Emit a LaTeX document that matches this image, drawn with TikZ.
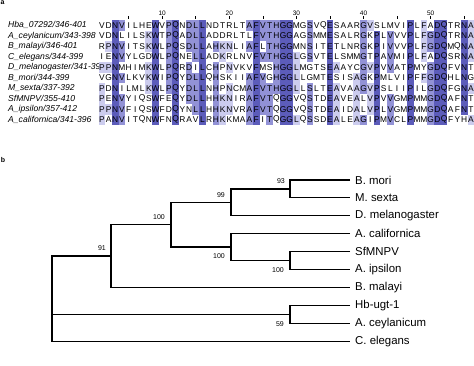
\documentclass[tikz,border=0pt]{standalone}
\usepackage{fontspec}
\setmainfont{Liberation Sans}
\usepackage{xcolor}
\usepackage{tikz}

\definecolor{piddark}{RGB}{92,92,186}
\definecolor{pidmid}{RGB}{146,146,214}
\definecolor{pidlight}{RGB}{204,204,238}

\tikzset{
  res/.style={inner sep=0pt, font=\fontsize{8.4}{8}\selectfont},
  seqname/.style={anchor=west, inner sep=0pt, font=\fontsize{8.6}{9}\selectfont\itshape},
  ruler/.style={inner sep=0pt, font=\fontsize{6.5}{7}\selectfont},
  branch/.style={line width=1.2pt},
  leaf/.style={anchor=west, inner sep=0pt, xshift=5pt, font=\fontsize{11.4}{12}\selectfont},
  boot/.style={inner sep=0pt, font=\fontsize{7}{8}\selectfont},
  panel/.style={inner sep=0pt, font=\fontsize{7}{8}\selectfont\bfseries}
}

% one alignment row: #1 row number, #2 residues
\newcommand\seqline[2]{\def\seqrow{#1}\def\seqcol{0}\seqstep#2\relax}
\def\seqstep#1{%
  \ifx#1\relax\else
    \pgfmathtruncatemacro\seqcol{\seqcol+1}%
    \node[res] (s\seqrow-\seqcol) at ({98.5+(\seqcol-0.5)*6.71},{25.3+(\seqrow-1)*10.5}) {#1};%
    \expandafter\seqstep
  \fi}

\begin{document}
\begin{tikzpicture}[x=1pt,y=-1pt]
    \useasboundingbox (0,0) rectangle (474,366);

    % panel a: alignment
    \node[panel] (pa) at (2.5,3) {a};

    % sequence names, cut at the alignment
    \begin{scope}
        \clip (0,18) rectangle (98.5,130);
        \node[seqname] (nm1) at (8,25.3) {Hba\_07292/346-401};
        \node[seqname] (nm2) at (8,35.8) {A\_ceylanicum/343-398};
        \node[seqname] (nm3) at (8,46.3) {B\_malayi/346-401};
        \node[seqname] (nm4) at (8,56.8) {C\_elegans/344-399};
        \node[seqname] (nm5) at (8,67.3) {D\_melanogaster/341-396};
        \node[seqname] (nm6) at (8,77.8) {B\_mori/344-399};
        \node[seqname] (nm7) at (8,88.3) {M\_sexta/337-392};
        \node[seqname] (nm8) at (8,98.8) {SfMNPV/355-410};
        \node[seqname] (nm9) at (8,109.3) {A\_ipsilon/357-412};
        \node[seqname] (nm10) at (8,119.8) {A\_californica/341-396};
    \end{scope}
    \fill[white] (98.5,20.05) rectangle (474,125.05);

    \foreach \col/\tone/\rows in {1/pidlight/{5,7,8,9,10}, 2/pidlight/{3,5,9}, 3/piddark/{1,...,10},
        4/pidmid/{1,3,4,6,8,9,10}, 8/pidlight/{2,3,5,6,7}, 9/piddark/{1,...,10}, 11/pidmid/{1,...,7},
        12/piddark/{1,...,10}, 14/pidmid/{1,2,3,5,6,7,8}, 15/pidmid/{1,2,3,4,6,7,8,9}, 16/piddark/{1,...,10},
        18/pidmid/{3,5,6,7,8,9,10}, 19/pidlight/{3,4,8,9,10}, 20/pidlight/{3,5,7,8,9},
        23/pidmid/{1,3,6,7,8,9,10}, 24/piddark/{1,...,10}, 25/pidmid/{1,2,4,6,7,8,9},
        26/pidmid/{1,2,3,4,7,8,9,10}, 27/pidmid/{1,...,7}, 28/piddark/{1,...,10}, 29/piddark/{1,...,10},
        30/pidlight/{4,5,6,7,10}, 32/pidmid/{1,2,3,4,7,8,9,10}, 35/piddark/{1,...,10},
        36/pidlight/{5,7,8,9,10}, 39/pidlight/{6,7,8,9,10}, 40/pidmid/{1,2,3,4,5,6,7,10},
        41/pidlight/{1,5,7,8,9}, 42/piddark/{2,...,10}, 44/pidmid/{2,3,4,5,8,9,10}, 47/piddark/{1,...,10},
        49/pidlight/{1,2,3,4,6}, 50/pidmid/{2,3,5,6,7,8,9,10}, 51/piddark/{1,...,10}, 52/piddark/{1,...,10},
        55/piddark/{1,...,9}, 56/pidlight/{1,2,3,4,7,10}}{
        \foreach \r in \rows
            \fill[\tone] ({98.5+(\col-1)*6.71},{20.05+(\r-1)*10.5}) rectangle ++(6.71,10.5);
    }

    % ruler
    \foreach \n in {10,20,...,50}
        \node[ruler] (num\n) at ({98.5+(\n-0.5)*6.71},13) {\n};
    \foreach \n in {5,10,...,55}
        \draw[line width=0.6pt] ({98.5+(\n-0.5)*6.71},16.5) -- ({98.5+(\n-0.5)*6.71},19);

    \seqline{1}{VDNVILHEWVPQNDLLNDTRLTAFVTHGGMGSVQESAARGVSLMVIPLFADQTRNA}
    \seqline{2}{VDNLILSKWTPQADLLADDRLTLFVTHGGAGSMMESALRGKPLVVVPLFGDQTRNA}
    \seqline{3}{RPNVITSKWLPQSDLLAHKNLIAFLTHGGMNSITETLNRGKPIVVVPLFGDQMQNA}
    \seqline{4}{IENVYLGDWLPQNELLADKRLNVFVTHGGLGSVTELSMMGTPAVMIPLFADQSRNA}
    \seqline{5}{PPNMHIMKWLPQRDILCHPNVKVFMSHGGLMGTSEAAYCGVPVVATPMYGDQFVNT}
    \seqline{6}{VGNVLKVKWIPQYDLLQHSKIIAFVGHGGLLGMTESISAGKPMLVIPFFGDQHLNG}
    \seqline{7}{PDNILMLKWLPQYDLLNHPNCMAFVTHGGLLSLTEAVAAGVPSLIIPILGDQFGNA}
    \seqline{8}{PENVYIQSWFEQYDLLHHKNIRAFVTQGGVQSTDEAVEALVPVVGMPMMGDQAFNT}
    \seqline{9}{PPNVFIQSWFDQYNLLHHKNVRAFVTQGGVQSTDEAIDALVPLVGMPMMGDQAFNT}
    \seqline{10}{PANVITQNWFNQRAVLRHKKMAAFITQGGLQSSDEALEAGIPMVCLPMMGDQFYHA}

    % panel b: tree
    \node[panel] (pb) at (3,160) {b};

    \coordinate (bmori) at (350,180);
    \coordinate (msexta) at (350,197.9);
    \coordinate (dmel) at (350,215.8);
    \coordinate (acal) at (350,233.7);
    \coordinate (sfmnpv) at (350,251.6);
    \coordinate (aips) at (350,269.5);
    \coordinate (bmal) at (350,287.4);
    \coordinate (hbugt) at (350,305.3);
    \coordinate (acey) at (350,323.2);
    \coordinate (cele) at (350,341.1);

    \coordinate (n93) at (290,189);
    \coordinate (n99) at (231,202.4);
    \coordinate (n100c) at (290,260.5);
    \coordinate (n100b) at (231,247.1);
    \coordinate (n100a) at (171,224.8);
    \coordinate (n91) at (111,256.1);
    \coordinate (n59) at (290,314.3);
    \coordinate (root) at (52,314.3);

    \draw[branch] (bmori) -| (n93) |- (msexta);
    \draw[branch] (n93) -| (n99) |- (dmel);
    \draw[branch] (sfmnpv) -| (n100c) |- (aips);
    \draw[branch] (acal) -| (n100b) |- (n100c);
    \draw[branch] (n99) -| (n100a) |- (n100b);
    \draw[branch] (n100a) -| (n91) |- (bmal);
    \draw[branch] (hbugt) -| (n59) |- (acey);
    \draw[branch] (n91) -| (root) |- (cele);
    \draw[branch] (root) -- (n59);

    \node[boot, anchor=south east] (b93) at ([xshift=-5pt,yshift=5.5pt]n93) {93};
    \node[boot, anchor=south east] (b99) at ([xshift=-6pt,yshift=5pt]n99) {99};
    \node[boot, anchor=south east] (b100a) at ([xshift=-6pt,yshift=5.5pt]n100a) {100};
    \node[boot, anchor=south east] (b91) at ([xshift=-5pt,yshift=5pt]n91) {91};
    \node[boot, anchor=north east] (b100b) at ([xshift=-6pt,yshift=-6pt]n100b) {100};
    \node[boot, anchor=north east] (b100c) at ([xshift=-6pt,yshift=-6.5pt]n100c) {100};
    \node[boot, anchor=north east] (b59) at ([xshift=-6pt,yshift=-7.5pt]n59) {59};

    \node[leaf] (lbmori) at (bmori) {B. mori};
    \node[leaf] (lmsexta) at (msexta) {M. sexta};
    \node[leaf] (ldmel) at (dmel) {D. melanogaster};
    \node[leaf] (lacal) at (acal) {A. californica};
    \node[leaf] (lsfmnpv) at (sfmnpv) {SfMNPV};
    \node[leaf] (laips) at (aips) {A. ipsilon};
    \node[leaf] (lbmal) at (bmal) {B. malayi};
    \node[leaf] (lhbugt) at (hbugt) {Hb-ugt-1};
    \node[leaf] (lacey) at (acey) {A. ceylanicum};
    \node[leaf] (lcele) at (cele) {C. elegans};
\end{tikzpicture}
\end{document}
